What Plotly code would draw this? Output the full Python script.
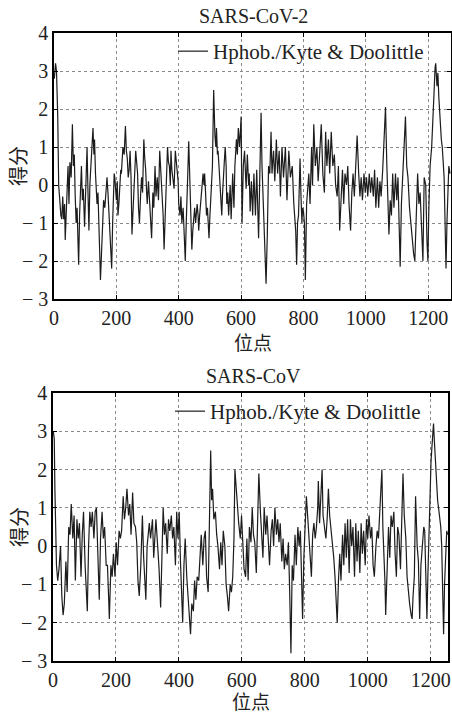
import plotly.graph_objects as go

# ---------------- data ----------------
cov2_pos = [1,5,8,12,15,19,22,25,28,31,34,36,39,42,45,48,51,55,59,62,65,68,71,74,79,82,85,88,91,94,98,102,106,109,112,115,118,121,125,128,130,133,138,141,144,147,149,152,155,159,163,166,170,173,176,179,182,185,188,190,193,195,198,200,203,205,208,211,214,216,219,221,225,229,232,235,238,241,244,247,250,253,256,259,262,265,268,271,
            274,278,281,284,288,291,294,297,299,303,306,310,313,317,320,324,327,331,335,339,342,346,350,353,356,359,362,364,367,370,373,375,378,381,385,389,392,395,398,400,404,407,410,414,418,421,424,426,429,432,435,437,440,442,445,448,451,454,457,459,462,464,467,470,473,475,478,481,483,486,489,492,494,497,500,503,506,508,512,514,516,519,521,524,526,529,531,533,536,538,540,543,546,549,552,554,557,560,562,565,568,570,573,577,580,585,588,591,595,597,600,603,607,611,614,616,620,624,626,629,633,637,641,643,646,650,653,656,660,664,667,670,672,676,680,684,688,692,696,699,704,708,713,717,722,726,731,736,742,747,753,758,764,769,772,775,778,781,784,789,792,795,797,800,803,806,810,813,817,821,826,829,833,838,843,847,852,857,862,867,871,875,880,884,889,894,899,903,908,912,916,921,925,929,933,938,942,946,951,955,959,963,968,972,977,981,985,989,994,998,1002,1006,1011,1015,1019,1024,1028,1032,1037,1041,1045,1049,1054,1058,1063,1067,1071,1074,1078,1082,1086,1090,1095,1099,1103,1106,1110,1114,1118,1123,1127,1131,1135,1140,1144,1148,1153,1157,1161,1166,1170,1174,1179,1183,1187,1192,1196,1199,1202,1206,1211,1215,1219,1222,1224,1228,1231,1234,1238,1242,1245,1247,1249,1251,1254,1257,1260,1263,1266,1270]
cov2_score = [2.8,3.2,3.0,1.8,0.0,-0.5,-0.8,-0.9,-0.3,-0.9,-0.5,-1.45,-0.6,0.3,0.5,-0.5,0.6,0.2,1.6,0.5,0.8,-0.3,-1.0,-0.6,-2.1,-0.8,0.0,0.5,-0.4,-0.1,-1.1,0.2,1.0,-0.2,-1.2,0.0,0.5,0.9,1.5,0.8,1.2,0.3,-0.5,-0.2,-1.5,-1.9,-2.5,-1.8,-1.5,-0.4,-0.6,-0.2,0.2,-0.2,-0.7,-1.2,-1.8,-2.2,-1.0,-0.2,0.3,0.2,-0.2,-0.4,0.1,-0.8,-0.5,0.0,0.4,0.3,0.6,1.0,0.8,1.55,0.9,0.7,0.2,0.4,0.9,0.2,-1.3,-0.7,-0.3,0.3,0.9,0.6,0.3,-0.6,
              -1.0,-0.2,0.2,-0.2,1.2,0.7,0.4,-0.2,-0.5,0.1,-0.4,-0.9,-1.4,-0.2,-0.6,0.5,-0.3,0.2,-0.4,0.9,0.4,0.1,-0.8,-1.7,-0.9,-0.5,0.3,1.0,0.6,0.5,0.0,0.9,0.4,0.2,-0.1,0.9,0.6,0.4,0.1,-0.5,-0.8,-0.3,-1.0,-0.6,-1.2,-2.0,-1.0,-0.6,0.3,1.15,0.1,-0.5,-1.0,-1.7,-1.2,-0.9,-0.6,-1.0,-0.7,-0.5,-0.8,-1.2,-0.8,-0.5,-0.3,-0.2,0.3,0.0,0.3,-0.2,-0.8,-0.6,-1.0,-1.4,-0.8,-0.2,0.2,0.5,2.5,1.6,1.3,1.0,1.5,0.8,0.9,0.5,0.2,0.0,-0.4,-0.8,-0.3,0.3,0.6,1.0,0.5,-0.5,-0.2,-0.8,-0.3,0.0,-0.9,-0.4,0.3,-0.6,0.5,1.2,0.8,1.5,1.0,1.3,1.8,-1.0,0.5,0.9,0.2,-0.1,0.8,0.0,0.3,-0.7,0.1,-0.8,0.3,0.0,-0.8,0.4,-0.3,-1.4,0.3,1.9,0.5,-0.3,-0.8,-1.5,-2.6,-1.3,0.5,0.3,1.4,0.3,0.9,0.1,1.2,0.3,0.9,-0.3,1.0,0.2,1.0,-0.4,0.9,0.2,0.5,-0.5,-0.8,-1.2,-2.1,-1.0,-0.8,0.7,-0.3,-1.0,-0.6,-0.7,-1.0,-2.5,-0.5,0.0,0.3,-0.5,1.0,0.0,1.6,0.5,1.0,0.1,0.8,1.6,0.3,-0.2,1.4,0.5,1.2,0.3,1.4,0.5,0.8,0.0,-0.3,0.5,-1.2,-0.3,0.4,-0.5,0.3,0.0,0.5,-0.5,-1.2,-0.2,0.3,-0.3,0.8,1.3,0.3,-0.3,0.2,-0.4,0.3,-0.2,0.2,-0.3,0.3,-0.2,0.2,-0.3,0.4,-0.6,0.2,-0.6,0.1,-0.3,0.4,1.2,2.05,0.6,-0.8,-1.3,-0.4,-0.8,0.3,-0.6,0.3,-0.4,0.2,-0.8,-2.15,-0.5,0.3,1.1,1.8,0.5,0.2,-0.6,-1.0,-1.5,-1.8,-2.0,-1.0,0.3,-0.5,-0.2,-1.2,-2.0,0.2,0.0,-1.5,-2.0,-0.6,0.5,1.0,2.0,2.5,3.1,3.2,2.6,2.95,2.3,1.6,1.2,1.0,0.8,0.6,0.2,-1.0,-2.2,-1.0,-0.2,0.5,0.3]

cov_pos = [1,4,6,8,11,15,19,24,28,32,36,41,45,50,54,58,63,67,71,76,80,84,89,93,97,102,106,109,113,117,121,125,130,134,138,142,147,151,156,160,164,169,173,177,179,184,188,192,197,201,205,210,214,218,223,227,231,235,240,244,248,253,257,262,266,270,274,
           279,281,284,288,292,295,299,302,306,310,316,320,327,331,337,342,346,350,354,358,363,367,371,376,380,384,389,393,397,401,405,410,412,416,420,425,429,433,437,441,446,450,454,458,463,467,471,476,480,484,488,493,497,501,504,507,511,516,520,524,529,533,537,541,546,550,554,558,563,567,571,575,578,582,586,590,595,599,603,607,612,616,620,624,629,633,637,641,646,650,654,659,663,667,671,676,680,684,688,693,697,701,705,710,714,718,722,727,731,735,739,744,748,752,756,760,764,769,773,778,782,786,790,793,797,801,805,809,814,818,821,825,829,833,837,841,843,847,851,855,858,862,867,871,875,879,884,888,892,896,900,903,907,911,915,920,924,928,932,936,941,945,949,953,958,962,966,970,975,979,983,987,992,996,1000,1004,1009,1013,1017,1021,1026,1030,1034,1038,1042,1045,1048,1052,1055,1057,1061,1066,1070,1074,1078,1083,1087,1091,1095,1099,1104,1108,1112,1116,1121,1125,1129,1133,1138,1141,1144,1148,1152,1157,1161,1165,1169,1174,1178,1181,1184,1188,1191,1195,1198,1201,1204,1207,1209,1212,1215,1219,1222,1225,1228,1232,1235,1238,1241,1244,1248,1251,1254]
cov_score = [3.0,2.8,1.5,0.5,-0.5,-0.9,-0.6,0.0,-1.3,-1.8,-1.5,-0.4,-1.2,0.5,0.3,1.1,0.2,0.8,-0.9,0.7,0.2,0.6,-0.8,0.3,0.9,-0.5,-1.4,-1.7,0.0,0.9,0.5,0.9,0.2,0.9,1.0,-0.3,-1.4,0.2,0.9,0.2,0.5,-0.5,-0.5,-1.4,-1.9,-0.5,-0.8,-0.2,-0.8,0.1,-0.5,0.4,0.2,0.4,1.3,0.7,1.0,1.5,0.8,1.1,0.3,1.4,0.6,0.5,0.1,-0.9,-1.3,
             -0.5,0.1,0.8,-0.3,-0.9,-1.4,0.0,0.3,0.6,0.2,0.7,-0.3,0.7,0.2,-0.6,-1.6,-0.5,1.0,0.3,0.6,-0.2,0.7,0.4,0.8,0.2,0.5,-0.5,0.9,0.2,0.9,-0.4,-1.5,-2.0,-0.5,0.2,-0.8,-1.3,-1.7,-2.3,-1.5,-1.7,-0.9,-1.4,-0.8,-0.9,-0.3,0.3,-0.5,0.2,0.4,-0.8,-1.2,0.3,2.5,1.2,1.5,0.7,0.9,0.3,0.0,-0.6,0.1,-0.5,0.4,0.0,-1.0,-1.3,-1.7,-1.0,-1.2,-0.8,0.2,2.0,1.5,1.0,0.6,0.2,0.8,0.1,-0.6,-0.8,0.2,-0.9,0.5,0.1,1.0,0.3,0.1,-0.7,0.5,1.9,0.9,0.3,-0.3,1.0,0.3,0.8,0.1,-0.5,0.4,0.7,0.0,1.0,0.3,0.7,0.1,0.6,-0.4,0.2,-0.6,-0.2,-0.5,0.1,-1.2,-2.8,-0.5,-0.9,0.3,-0.5,0.5,0.0,0.4,-0.7,-1.9,-0.3,0.8,1.3,0.8,0.0,-0.5,-0.8,0.3,0.6,0.2,0.5,1.0,1.7,0.6,1.3,2.0,0.8,0.5,0.2,0.7,1.5,0.8,0.4,0.2,-0.3,-0.8,-1.5,-2.0,-0.9,-0.2,-0.9,0.3,-0.5,0.6,-0.3,0.7,-0.7,0.7,0.0,0.5,-0.8,0.6,-0.4,0.4,-0.7,0.6,-0.2,0.4,-0.5,0.7,0.2,0.8,0.2,0.5,-0.5,-0.8,0.0,0.4,0.2,1.0,1.8,2.0,0.5,-0.3,-1.0,-1.8,-0.6,0.5,-0.3,0.8,0.5,0.9,-0.2,-0.8,0.5,0.3,-0.6,0.9,1.9,0.8,0.2,-0.8,-1.2,-1.5,-1.8,-1.9,-1.3,-0.8,1.3,0.0,-0.4,-1.9,-0.5,0.2,0.5,0.4,-1.0,-1.9,-0.8,0.5,1.2,2.2,2.6,3.1,3.2,2.7,2.2,1.5,1.2,1.0,0.8,0.5,0.0,-1.2,-2.3,-1.0,0.0,0.4,0.3]

titles = ["SARS-CoV-2", "SARS-CoV"]
series_name = "Hphob./Kyte & Doolittle"
x_label = "位点"
y_label = "得分"
x_ticks = [0, 200, 400, 600, 800, 1000, 1200]
y_ticks = [-3, -2, -1, 0, 1, 2, 3, 4]
y_ticktext = ["− 3", "− 2", "− 1", "0", "1", "2", "3", "4"]
x_max = [1273, 1255]

# ---------------- figure ----------------
W, H = 452, 713
SERIF = "Liberation Serif, Times New Roman, serif"
CJK = "Noto Sans CJK SC"

fig = go.Figure()
fig.add_trace(go.Scatter(x=cov2_pos, y=cov2_score, mode="lines", name=series_name, showlegend=True,
                         line=dict(color="#1c1c1c", width=1.2), xaxis="x", yaxis="y", legend="legend"))
fig.add_trace(go.Scatter(x=cov_pos, y=cov_score, mode="lines", name=series_name, showlegend=True,
                         line=dict(color="#1c1c1c", width=1.2), xaxis="x2", yaxis="y2", legend="legend2"))

# pixel boxes of the plot areas
boxes = [dict(l=54, r=451, t=33, b=299), dict(l=53, r=448, t=393, b=661)]
xlabel_gap = [42, 39]

def px_x(p):
    return p / W

def px_y(p):
    return 1 - p / H

axis_common = dict(showline=True, linecolor="black", linewidth=1.5, mirror="allticks",
                   ticks="inside", ticklen=4, tickcolor="black", tickwidth=1,
                   showgrid=True, gridcolor="#8a8a8a", gridwidth=1, griddash="dot",
                   zeroline=False, automargin=False,
                   tickfont=dict(family=SERIF, size=20, color="#222"))

layout = dict(width=W, height=H, margin=dict(l=0, r=0, t=0, b=0, autoexpand=False),
              paper_bgcolor="white", plot_bgcolor="white", showlegend=True, annotations=[])

for i, bx in enumerate(boxes):
    xs = "" if i == 0 else "2"
    layout["xaxis" + xs] = dict(axis_common, domain=[px_x(bx["l"]), px_x(bx["r"])],
                                range=[0, x_max[i]], tickvals=x_ticks, anchor="y" + xs)
    layout["yaxis" + xs] = dict(axis_common, domain=[px_y(bx["b"]), px_y(bx["t"])],
                                range=[-3, 4], tickvals=y_ticks, ticktext=y_ticktext,
                                anchor="x" + xs)
    cx = (bx["l"] + bx["r"]) / 2
    cy = (bx["t"] + bx["b"]) / 2
    layout["annotations"] += [
        dict(text=titles[i], x=px_x(253), y=px_y(bx["t"] - 17), xref="paper", yref="paper",
             showarrow=False, font=dict(family=SERIF, size=20, color="#222"),
             xanchor="center", yanchor="middle"),
        dict(text=x_label, x=px_x(cx), y=px_y(bx["b"] + xlabel_gap[i]), xref="paper", yref="paper",
             showarrow=False, font=dict(family=CJK, size=19, color="#222"),
             xanchor="center", yanchor="middle"),
        dict(text=y_label, x=px_x(18), y=px_y(cy), xref="paper", yref="paper", textangle=-90,
             showarrow=False, font=dict(family=CJK, size=20, color="#222"),
             xanchor="center", yanchor="middle"),
    ]
    leg = dict(x=px_x(bx["r"] - 22), y=px_y(bx["t"] - 2), xanchor="right", yanchor="top",
               bgcolor="rgba(0,0,0,0)", borderwidth=0, visible=True,
               font=dict(family=SERIF, size=21, color="#222"))
    layout["legend" if i == 0 else "legend2"] = leg

fig.update_layout(**layout)
fig.write_html("out.html", config={"displayModeBar": False},
               post_script="document.body.style.margin='0';document.body.style.overflow='hidden';")
